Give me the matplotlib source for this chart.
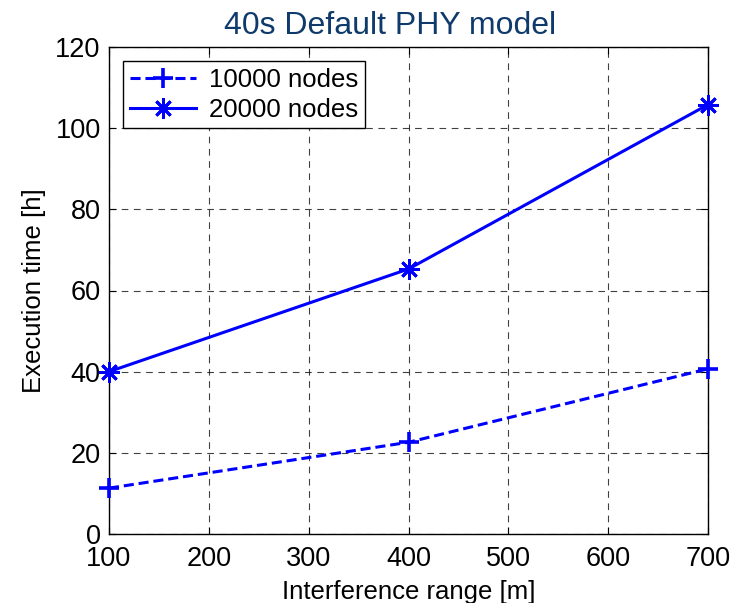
import matplotlib
matplotlib.use("Agg")
import matplotlib.pyplot as plt

plt.rcParams['font.family'] = ['Liberation Sans', 'DejaVu Sans']

x = [100, 400, 700]
nodes10k = [11.3, 22.6, 40.7]
nodes20k = [40.0, 65.3, 105.8]
labels = ['10000 nodes', '20000 nodes']

fig = plt.figure(figsize=(7.44, 6.03), dpi=100)
ax = fig.add_axes([109/744, 1 - 534/603, (708-109)/744, (534-47)/603])

ax.plot(x, nodes10k, color='#0000ff', linestyle='--', linewidth=2.2, marker='+',
        markersize=15, markeredgewidth=2.6, label=labels[0], dashes=(3.3, 1.6),
        clip_on=False, zorder=5)
ax.plot(x, nodes20k, color='#0000ff', linestyle='-', linewidth=2.2, marker=(8, 2, 0),
        markersize=14.5, markeredgewidth=2.0, label=labels[1],
        clip_on=False, zorder=5)

ax.set_xlim(100, 700)
ax.set_ylim(0, 120)
ax.set_xticks(range(100, 701, 100))
ax.set_yticks(range(0, 121, 20))
ax.grid(True, color='black', linestyle=(0, (6, 5)), linewidth=0.8, alpha=0.75)
ax.tick_params(direction='in', labelsize=19.5, length=5, top=True, right=True)
ax.tick_params(axis='x', pad=8.5)
ax.tick_params(axis='y', pad=6)
for s in ax.spines.values():
    s.set_linewidth(1.0)

ax.set_xlabel('Interference range [m]', fontsize=18.5, labelpad=6)
ax.set_ylabel('Execution time [h]', fontsize=18.5, labelpad=7)
ax.set_title('40s Default PHY model', fontsize=23, color='#0f3a6c', pad=9, x=0.47)

leg = ax.legend(loc='upper left', fontsize=18.5, fancybox=False, framealpha=1,
                edgecolor='black', handlelength=2.6, borderaxespad=0.55,
                borderpad=0.25, labelspacing=0.25, handletextpad=0.5)
leg.get_frame().set_linewidth(1.0)

fig.savefig('out.png', dpi=100)
